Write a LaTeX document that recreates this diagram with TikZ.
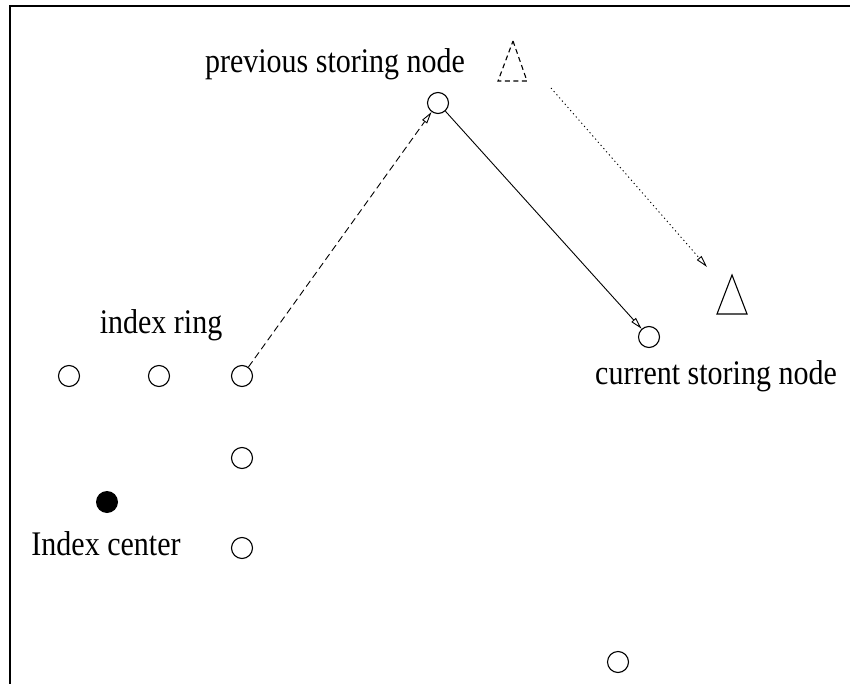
\documentclass[tikz,border=0pt]{standalone}
\usepackage{fontspec}
\setmainfont{Liberation Serif}
\usetikzlibrary{arrows.meta}
\newcommand{\tall}[1]{\scalebox{1}[1.15]{#1}}
\begin{document}
\begin{tikzpicture}[x=1pt,y=-1pt,
  peer/.style={circle,draw,line width=1.1pt,minimum size=21pt,inner sep=0pt},
  center/.style={circle,fill=black,minimum size=22pt,inner sep=0pt},
  lbl/.style={font=\fontsize{30}{36}\selectfont,anchor=base,inner sep=0pt},
  hop/.style={line width=0.9pt,-{Triangle[open,length=12pt,width=6pt]}},
  tri/.style={line width=1.1pt,line join=miter}]
  \useasboundingbox (0,0) rectangle (850,684);
  % frame (top and left edges only)
  \draw[line width=2.2pt] (10,684) -- (10,6) -- (850,6);

  % index ring members
  \node[peer] (r1) at (69,376) {};
  \node[peer] (r2) at (159,376) {};
  \node[peer] (r3) at (242,376) {};
  \node[peer] (r4) at (242,458) {};
  \node[peer] (r5) at (242,548) {};
  \node[peer] (prev) at (438,103) {};
  \node[peer] (cur) at (649,337) {};
  \node[peer] (far) at (618,662) {};
  \node[center] (ic) at (107,502) {};

  % labels
  \node[lbl] (tprev) at (335,73) {\tall{previous storing node}};
  \node[lbl] (tring) at (161,333) {\tall{index ring}};
  \node[lbl] (tcur) at (716,384) {\tall{current storing node}};
  \node[lbl] (tic) at (106,555) {\tall{Index center}};

  % data items (triangles)
  \draw[tri,dashed,dash pattern=on 5pt off 3.5pt] (513,41) -- (527,81) -- (498,81) -- cycle;
  \draw[tri] (732,275) -- (747,314) -- (717,314) -- cycle;
  \coordinate (mvs) at (551,88);
  \coordinate (mve) at (707,267);

  % hops
  \draw[hop,dashed,dash pattern=on 7pt off 4pt] (r3) -- (prev);
  \draw[hop] (prev) -- (cur);
  \draw[hop,dotted,dash pattern=on 1.2pt off 3pt] (mvs) -- (mve);
\end{tikzpicture}
\end{document}
